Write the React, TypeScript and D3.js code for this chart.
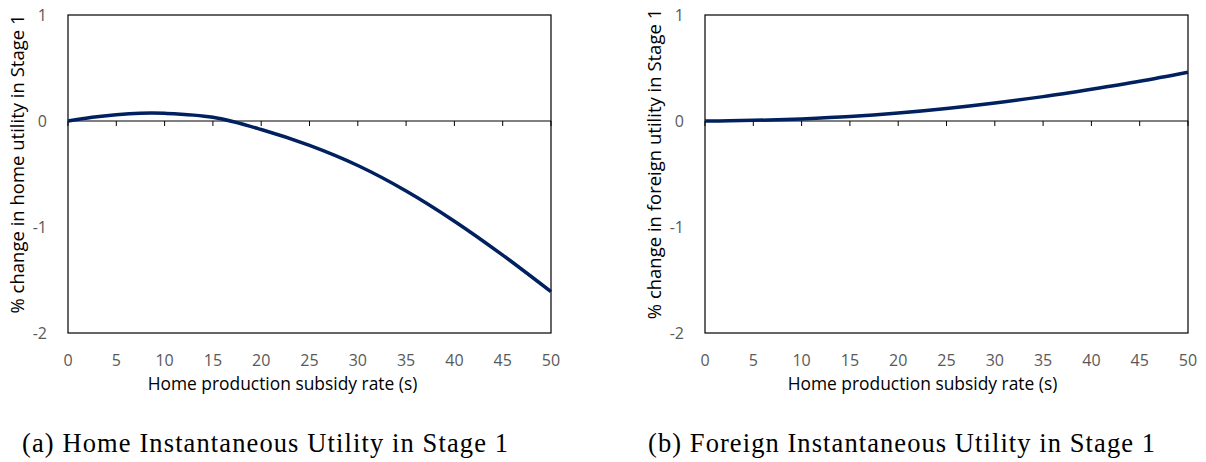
import React from "react";
import * as d3 from "d3";

const subsidyRates = [0, 2.5, 5, 7.5, 10, 15, 20, 25, 30, 35, 40, 45, 50];
const homeUtility = [0, 0.036, 0.06, 0.073, 0.072, 0.035, -0.08, -0.23, -0.42, -0.66, -0.945, -1.265, -1.61];
const foreignUtility = [0, 0.002, 0.006, 0.012, 0.02, 0.042, 0.075, 0.118, 0.17, 0.23, 0.3, 0.375, 0.46];
const xTicks = [0, 5, 10, 15, 20, 25, 30, 35, 40, 45, 50];
const yTicks = [1, 0, -1, -2];

const xTitle = "Home production subsidy rate (s)";

type PanelProps = {
  left: number;
  values: number[];
  yTitle: string;
  caption: string;
  captionWidth: number;
  xTitleOffset: number;
  captionX: number;
};

const Panel: React.FC<PanelProps> = ({ left, values, yTitle, caption, captionWidth, xTitleOffset, captionX }) => {
  const w = 483;
  const top = 15;
  const bottom = 333;
  const x = d3.scaleLinear().domain([0, 50]).range([left, left + w]);
  const y = d3.scaleLinear().domain([-2, 1]).range([bottom, top]);
  const line = d3
    .line<number>()
    .x((_, i) => x(subsidyRates[i]))
    .y((d) => y(d))
    .curve(d3.curveCatmullRom.alpha(0.5));
  const tickFont = "'Open Sans', sans-serif";

  return (
    <g>
      <rect x={left} y={top} width={w} height={bottom - top} fill="none" stroke="#000" strokeWidth={1.2} />
      <line x1={left} x2={left + w} y1={y(0)} y2={y(0)} stroke="#000" strokeWidth={1} />
      {xTicks.map((t) => (
        <line key={t} x1={x(t)} x2={x(t)} y1={y(0)} y2={y(0) + 5} stroke="#000" strokeWidth={1} />
      ))}
      <path d={line(values) ?? ""} fill="none" stroke="#002060" strokeWidth={3.5} />
      {yTicks.map((t) => (
        <text
          key={t}
          x={left - 21}
          y={y(t) + 6}
          textAnchor="end"
          fontFamily={tickFont}
          fontSize={16}
          fill="#595959"
        >
          {t}
        </text>
      ))}
      {xTicks.map((t) => (
        <text
          key={t}
          x={x(t)}
          y={366}
          textAnchor="middle"
          fontFamily={tickFont}
          fontSize={16}
          fill="#595959"
        >
          {t}
        </text>
      ))}
      <text
        x={x(25) + xTitleOffset}
        y={390}
        textAnchor="middle"
        fontFamily={tickFont}
        fontSize={17.4}
        fill="#000"
      >
        {xTitle}
      </text>
      <text
        transform={`translate(${left - 44},164) rotate(-90)`}
        textAnchor="middle"
        fontFamily={tickFont}
        fontSize={18.5}
        fill="#000"
      >
        {yTitle}
      </text>
      <text
        x={captionX}
        y={452}
        fontFamily="'Liberation Serif', serif"
        fontSize={26.5}
        textLength={captionWidth}
        lengthAdjust="spacing"
        fill="#000"
      >
        {caption}
      </text>
    </g>
  );
};

const App: React.FC = () => {
  return (
    <svg width={1206} height={462} style={{ position: "absolute", left: 0, top: 0, background: "#fff" }}>
      <Panel
        left={68}
        values={homeUtility}
        yTitle="% change in home utility in Stage 1"
        caption="(a) Home Instantaneous Utility in Stage 1"
        captionWidth={486}
        xTitleOffset={-27}
        captionX={22}
      />
      <Panel
        left={705}
        values={foreignUtility}
        yTitle="% change in foreign utility in Stage 1"
        caption="(b) Foreign Instantaneous Utility in Stage 1"
        captionWidth={507}
        xTitleOffset={-24}
        captionX={648}
      />
    </svg>
  );
};

export default App;
